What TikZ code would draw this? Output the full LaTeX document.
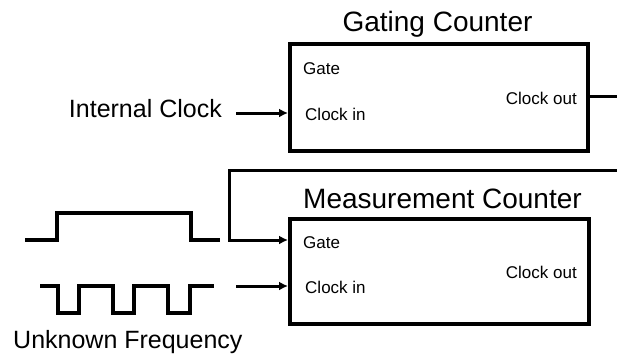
\documentclass[tikz,border=0pt]{standalone}
\usepackage{fontspec}
\setmainfont{Liberation Sans}
\usetikzlibrary{arrows.meta,positioning}

\begin{document}
\begin{tikzpicture}[
                x=1pt, y=-1pt,
                >={Latex[length=9pt,width=9pt]},
                counter/.style={draw, line width=4pt, minimum width=298pt, minimum height=107pt, inner sep=0pt},
                title/.style={font=\fontsize{28}{30}\selectfont, inner sep=0pt, anchor=base},
                side/.style={font=\fontsize{25}{27}\selectfont, inner sep=0pt, anchor=base},
                port/.style={font=\fontsize{17}{19}\selectfont, inner sep=0pt, anchor=base west},
                wire/.style={line width=3pt},
                wave/.style={line width=3.5pt, line join=miter}
            ]
            \useasboundingbox (0,0) rectangle (617,353);

            % the two counters
            \node[counter] (gating) at (439,97.5) {};
            \node[counter, minimum width=299pt, minimum height=105pt] (meas) at (439.5,271.5) {};

            \node[title] (gtitle) at (437.5,32) {Gating Counter};
            \node[title] (mtitle) at (442.5,208) {Measurement Counter};

            % port labels
            \node[port] (ggate) at (303,74) {Gate};
            \node[port] (gclkin) at (305,120) {Clock in};
            \node[port, anchor=base east] (gclkout) at (577,104) {Clock out};
            \node[port] (mgate) at (303,248) {Gate};
            \node[port] (mclkin) at (305,293) {Clock in};
            \node[port, anchor=base east] (mclkout) at (577,278) {Clock out};

            % inputs
            \node[side, anchor=base east] (intclk) at (222,117) {Internal Clock};
            \node[side, anchor=base west] (unknown) at (13,348) {Unknown Frequency};

            \coordinate (gin) at (236,113);
            \coordinate (min) at (236,286);
            \coordinate (gout) at (617,96);
            \coordinate (fback) at (617,170);
            \coordinate (fcorner) at (229,170);
            \coordinate (fdown) at (229,240);

            \draw[wire,->] (gin) -- (gin -| gating.west);
            \draw[wire,->] (min) -- (min -| meas.west);
            \draw[wire] (gout -| gating.east) -- (gout);
            \draw[wire,->] (fback) -- (fcorner) -- (fdown) -- (fdown -| meas.west);

            % waveforms
            \draw[wave] (25,240) -- (57,240) -- (57,213) -- (191,213) -- (191,240) -- (220,240);
            \draw[wave] (40,286) -- (58,286)
                \foreach \a/\b in {58/79, 113/134, 168/190} {
                    -- (\a,286) -- (\a,313) -- (\b,313) -- (\b,286)
                } -- (214,286);
        \end{tikzpicture}
\end{document}
